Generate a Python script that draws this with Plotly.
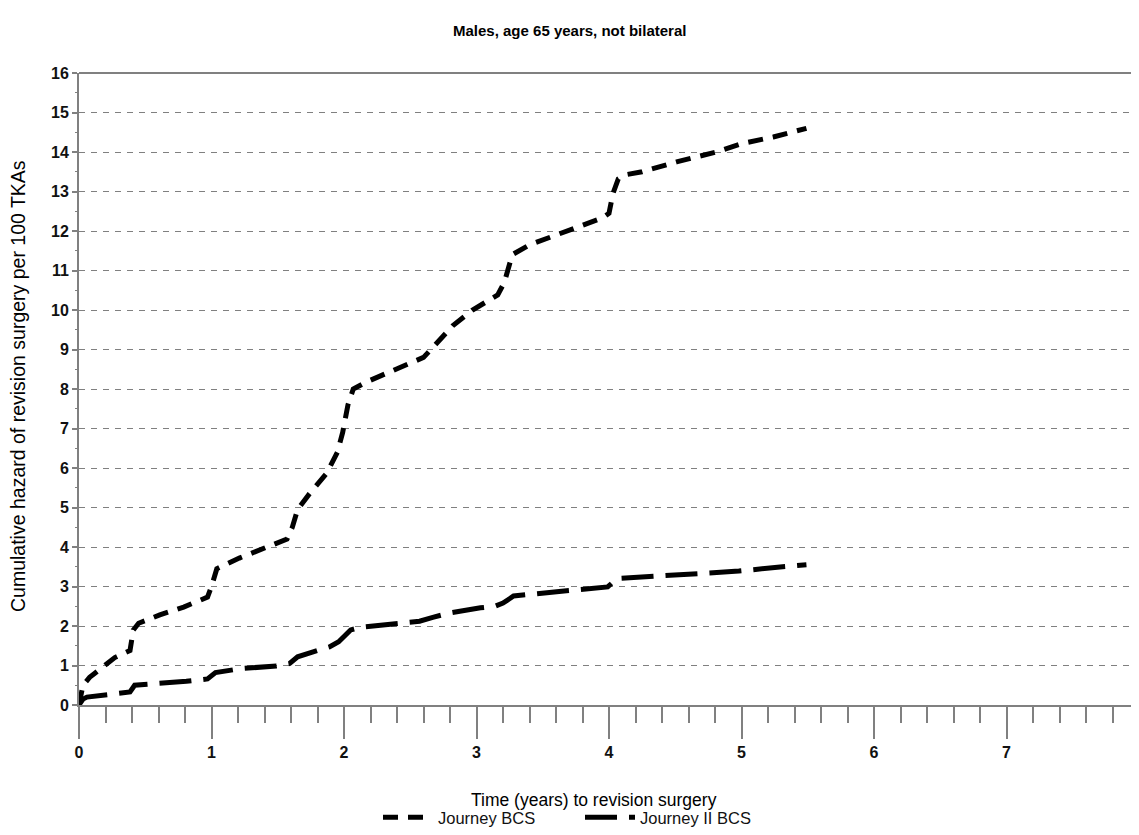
import plotly.graph_objects as go

# Journey BCS (upper curve)
bcs_t = [0, 0.03, 0.08, 0.27, 0.385, 0.41, 0.45, 0.61, 0.79, 0.97, 1.0, 1.04, 1.21, 1.5, 1.57,
         1.61, 1.65, 1.74, 1.87, 1.95, 1.99, 2.03, 2.07, 2.17, 2.37, 2.6, 2.67, 2.82, 2.97, 3.16,
         3.21, 3.24, 3.27, 3.40, 3.73, 3.95, 4.0, 4.03, 4.07, 4.12, 4.25, 4.51, 4.81, 5.01, 5.24, 5.49]
bcs_v = [0, 0.5, 0.7, 1.2, 1.38, 1.9, 2.07, 2.28, 2.48, 2.73, 3.0, 3.45, 3.72, 4.08, 4.2,
         4.5, 4.95, 5.35, 5.87, 6.4, 6.9, 7.6, 8.0, 8.18, 8.48, 8.8, 9.05, 9.6, 10.0, 10.38,
         10.7, 11.1, 11.4, 11.65, 12.05, 12.33, 12.45, 12.95, 13.32, 13.42, 13.5, 13.75, 14.0, 14.22, 14.38, 14.6]

# Journey II BCS (lower curve)
bcs2_t = [0, 0.03, 0.06, 0.21, 0.385, 0.42, 0.51, 0.81, 0.97, 1.03, 1.22, 1.49, 1.59, 1.65, 1.8,
          1.89, 1.96, 2.05, 2.13, 2.37, 2.57, 2.67, 2.8, 3.03, 3.14, 3.2, 3.28, 3.55, 3.77, 3.99,
          4.06, 4.28, 4.63, 4.98, 5.31, 5.49]
bcs2_v = [0, 0.15, 0.2, 0.25, 0.33, 0.5, 0.52, 0.6, 0.66, 0.82, 0.92, 0.99, 1.05, 1.22, 1.38,
          1.47, 1.6, 1.9, 1.97, 2.04, 2.12, 2.22, 2.33, 2.46, 2.5, 2.58, 2.76, 2.85, 2.91, 2.99,
          3.2, 3.24, 3.33, 3.39, 3.5, 3.55]

x_ticks = [0, 1, 2, 3, 4, 5, 6, 7, 8]
y_ticks = list(range(0, 17))

FONT = "Liberation Sans, Arial, sans-serif"
AX = "#808080"

# page has an 8px body margin; the figure starts at (8, 8)
OFF = 8
PL, PR, PT, PB = 79, 1139, 73, 705  # plot area in page pixels

def px(xp):
    return (xp - PL) / (PR - PL)

def py(yp):
    return (PB - yp) / (PB - PT)

fig = go.Figure()
fig.add_trace(go.Scatter(x=bcs_t, y=bcs_v, mode="lines", name="Journey BCS",
                         line=dict(color="black", width=5, dash="15px,10px")))
fig.add_trace(go.Scatter(x=bcs2_t, y=bcs2_v, mode="lines", name="Journey II BCS",
                         line=dict(color="black", width=5, dash="32px,12px")))

fig.update_layout(
    width=1139 - OFF, height=835 - OFF,
    margin=dict(l=PL - OFF, r=0, t=PT - OFF, b=835 - PB),
    paper_bgcolor="white", plot_bgcolor="white",
    font=dict(family=FONT, color="#111111", size=15),
    showlegend=True,
    legend=dict(orientation="h", x=px(378), xanchor="left", y=py(818), yanchor="middle",
                font=dict(size=16.5, family=FONT, color="#111111"), itemwidth=50,
                entrywidth=137, entrywidthmode="pixels", bgcolor="rgba(0,0,0,0)"),
    xaxis=dict(range=[0, 8], tickvals=x_ticks, showgrid=False, zeroline=False,
               showline=True, linecolor=AX, linewidth=2,
               ticks="outside", ticklen=32, tickwidth=2, tickcolor=AX,
               minor=dict(dtick=0.2, ticks="outside", ticklen=16, tickwidth=2, tickcolor=AX, showgrid=False),
               tickfont=dict(size=16, family=FONT, color="#111111", weight="bold")),
    yaxis=dict(range=[0, 16], tickvals=y_ticks, showgrid=True, gridcolor="#808080", gridwidth=1.2,
               griddash="6px,6px", zeroline=False,
               showline=True, linecolor=AX, linewidth=2,
               ticks="outside", ticklen=5, tickwidth=1.5, tickcolor=AX,
               minor=dict(dtick=0.5, ticks="outside", ticklen=2, tickwidth=1, tickcolor=AX, showgrid=False),
               tickfont=dict(size=16, family=FONT, color="#111111", weight="bold")),
    annotations=[
        dict(text="<b>Males, age 65 years, not bilateral</b>", xref="paper", yref="paper",
             x=px(569), y=py(30), xanchor="center", yanchor="middle",
             showarrow=False, font=dict(size=15, family=FONT, color="black")),
        dict(text="Time (years) to revision surgery", xref="paper", yref="paper",
             x=px(594), y=py(800), xanchor="center", yanchor="middle",
             showarrow=False, font=dict(size=17.5, family=FONT, color="black")),
        dict(text="Cumulative hazard of revision surgery per 100 TKAs", xref="paper", yref="paper",
             x=px(18), y=py(386), xanchor="center", yanchor="middle",
             textangle=-90, showarrow=False, font=dict(size=19.5, family=FONT, color="black")),
    ],
    shapes=[dict(type="line", xref="paper", yref="paper", x0=0, x1=1, y0=1, y1=1,
                 line=dict(color=AX, width=2))],
)

fig.write_html("out.html")
